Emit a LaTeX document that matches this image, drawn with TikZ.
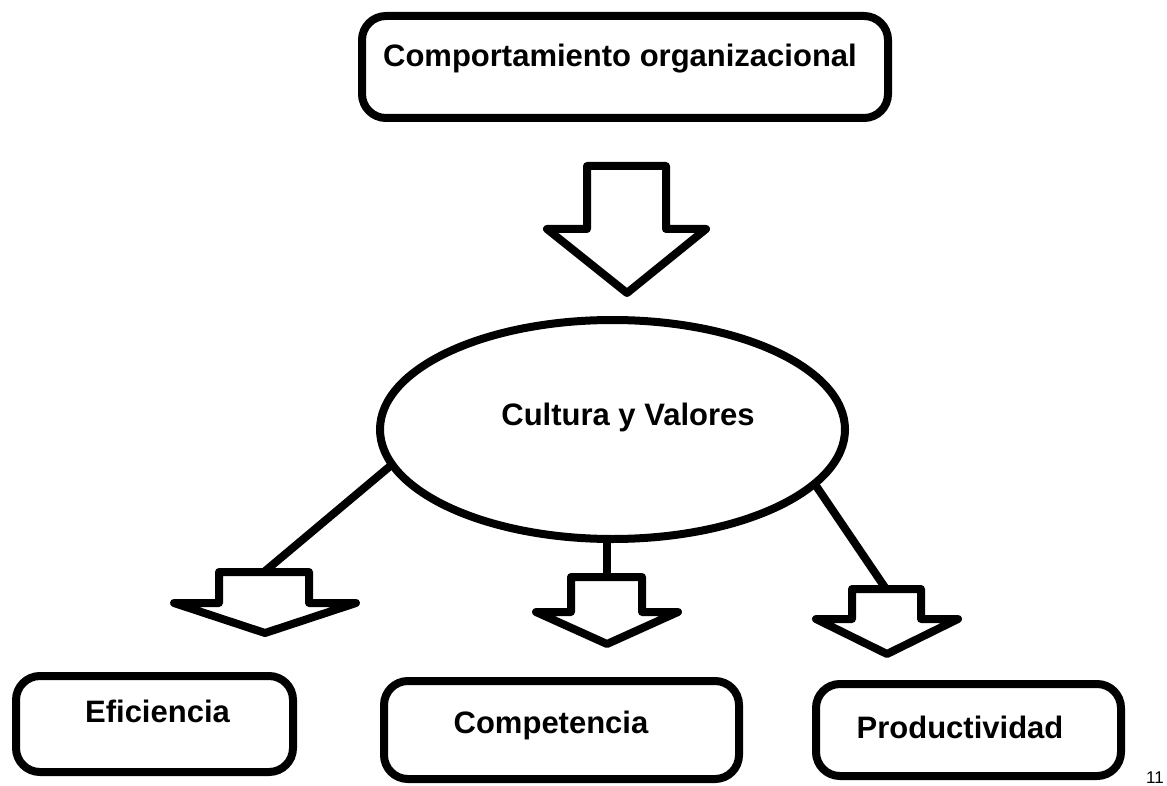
\documentclass[tikz,border=0pt]{standalone}
\usepackage{fontspec}
\setmainfont{Liberation Sans}
\usetikzlibrary{calc,positioning,shapes.geometric}

\begin{document}
\begin{tikzpicture}[
                x=1pt, y=-1pt,
                box/.style={draw,line width=8pt,rounded corners=24pt,inner sep=0pt,outer sep=0pt},
                oval/.style={ellipse,draw,line width=8pt,inner sep=0pt,outer sep=0pt},
                txt/.style={font=\fontsize{31}{31}\selectfont\bfseries,anchor=base,inner sep=0pt},
                fat/.style={draw,line width=8pt,line join=round,line cap=round},
                link/.style={line width=8pt}
            ]
                \useasboundingbox (0,0) rectangle (1167,786);
                \node (comp)  [box,minimum width=526,minimum height=102] at (625,67) {};
                \node (compt) [txt] at (620,67) {Comportamiento organizacional};
                \draw[fat] (587,166) -- (666,166) -- (666,229) -- (706,229) -- (627,293)
                    -- (547,229) -- (587,229) -- cycle;
                \node (cv)  [oval,minimum width=465,minimum height=219] at (612.5,429.5) {};
                \node (cvt) [txt] at (628,425) {Cultura y Valores};
                \coordinate (efin)   at (264,572);
                \coordinate (coin)   at (607,577);
                \coordinate (prin)   at (886,589);
                \draw[link] (cv.189.5) -- (efin);
                \draw[link] (cv.south -| coin) -- (coin);
                \draw[link] (cv.345.7) -- (prin);
                \draw[fat] (219,572) -- (309,572) -- (309,603) -- (356,603) -- (265,633)
                    -- (174,603) -- (219,603) -- cycle;
                \draw[fat] (571,577) -- (642,577) -- (642,612) -- (678,612) -- (607,644)
                    -- (536,612) -- (571,612) -- cycle;
                \draw[fat] (852,589) -- (921,589) -- (921,619) -- (958,619) -- (887,654)
                    -- (816,619) -- (852,619) -- cycle;
                \node (ef)  [box,minimum width=277,minimum height=96] at (154.5,724) {};
                \node (eft) [txt] at (157.5,722) {Eficiencia};
                \node (co)  [box,minimum width=355,minimum height=98] at (561.5,730) {};
                \node (cot) [txt] at (551,733) {Competencia};
                \node (pr)  [box,minimum width=305,minimum height=92] at (968.5,730) {};
                \node (prt) [txt] at (960,738) {Productividad};
                \node (pg)  [font=\fontsize{17}{17}\selectfont,anchor=base west,inner sep=0pt] at (1146,783) {11};
            \end{tikzpicture}
\end{document}
